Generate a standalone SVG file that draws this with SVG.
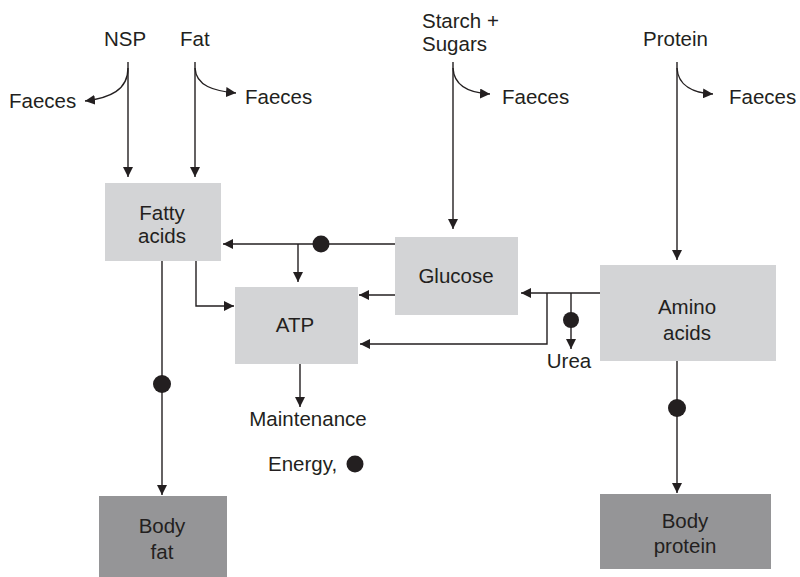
<svg xmlns="http://www.w3.org/2000/svg" width="800" height="577" viewBox="0 0 800 577">
  <style>
    .lbl { font-family: "Liberation Sans", Arial, sans-serif; font-size: 20.5px; fill: #231f20; }
    .mid { text-anchor: middle; }
    .light { fill: #d3d4d6; }
    .dark { fill: #959597; }
    .wire { fill: none; stroke: #231f20; stroke-width: 1.4; }
    .dot { fill: #231f20; }
  </style>
  <defs>
    <marker id="arrow" viewBox="0 0 10 10" refX="10" refY="5" markerWidth="10" markerHeight="10" markerUnits="userSpaceOnUse" orient="auto">
      <path d="M0,0 L10,5 L0,10 z" fill="#231f20"/>
    </marker>
  </defs>

  <rect width="800" height="577" fill="#ffffff"/>

  <!-- inputs -->
  <g id="nsp"><text class="lbl" x="104" y="46">NSP</text></g>
  <g id="fat"><text class="lbl" x="180" y="46">Fat</text></g>
  <g id="starch-sugars">
    <text class="lbl" x="422" y="28">Starch +</text>
    <text class="lbl" x="422" y="51">Sugars</text>
  </g>
  <g id="protein"><text class="lbl" x="643" y="46">Protein</text></g>

  <!-- faecal losses -->
  <g id="faeces-nsp"><text class="lbl" x="9" y="108">Faeces</text></g>
  <g id="faeces-fat"><text class="lbl" x="245" y="104">Faeces</text></g>
  <g id="faeces-starch"><text class="lbl" x="502" y="104">Faeces</text></g>
  <g id="faeces-protein"><text class="lbl" x="729" y="104">Faeces</text></g>

  <!-- metabolic pools -->
  <g id="fatty-acids">
    <rect class="light" x="105" y="183" width="116" height="78"/>
    <text class="lbl mid" x="162" y="220">Fatty</text>
    <text class="lbl mid" x="162" y="243">acids</text>
  </g>
  <g id="glucose">
    <rect class="light" x="395" y="237" width="123" height="78"/>
    <text class="lbl mid" x="456" y="283">Glucose</text>
  </g>
  <g id="atp">
    <rect class="light" x="235" y="287" width="123" height="77"/>
    <text class="lbl mid" x="295" y="332">ATP</text>
  </g>
  <g id="amino-acids">
    <rect class="light" x="600" y="265" width="176" height="96"/>
    <text class="lbl mid" x="687" y="314">Amino</text>
    <text class="lbl mid" x="687" y="340">acids</text>
  </g>

  <!-- outputs -->
  <g id="urea"><text class="lbl mid" x="569" y="368">Urea</text></g>
  <g id="maintenance"><text class="lbl mid" x="308" y="426">Maintenance</text></g>
  <g id="energy-key">
    <text class="lbl" x="268" y="471">Energy,</text>
    <circle class="dot" cx="355" cy="464" r="8.5"/>
  </g>
  <g id="body-fat">
    <rect class="dark" x="99" y="496" width="128" height="81"/>
    <text class="lbl mid" x="162" y="533">Body</text>
    <text class="lbl mid" x="162" y="559">fat</text>
  </g>
  <g id="body-protein">
    <rect class="dark" x="600" y="494" width="171" height="75"/>
    <text class="lbl mid" x="685" y="528">Body</text>
    <text class="lbl mid" x="685" y="553">protein</text>
  </g>

  <!-- connectors -->
  <g id="connectors">
    <path class="wire" d="M128,62 V177" marker-end="url(#arrow)"/>
    <path class="wire" d="M128,68 C128,90 110,98 85,101" marker-end="url(#arrow)"/>
    <path class="wire" d="M195,62 V177" marker-end="url(#arrow)"/>
    <path class="wire" d="M195,68 C196,86 214,91 236,93" marker-end="url(#arrow)"/>
    <path class="wire" d="M453,62 V229" marker-end="url(#arrow)"/>
    <path class="wire" d="M453,68 C454,86 470,93 490,94" marker-end="url(#arrow)"/>
    <path class="wire" d="M677,62 V260" marker-end="url(#arrow)"/>
    <path class="wire" d="M677,68 C678,86 694,93 713,94" marker-end="url(#arrow)"/>

    <path class="wire" d="M395,244 H223" marker-end="url(#arrow)"/>
    <circle class="dot" cx="321" cy="244" r="8.5"/>
    <path class="wire" d="M298,244 V282" marker-end="url(#arrow)"/>
    <path class="wire" d="M196,261 V306 H234" marker-end="url(#arrow)"/>
    <path class="wire" d="M395,295 H359" marker-end="url(#arrow)"/>

    <path class="wire" d="M600,293 H521" marker-end="url(#arrow)"/>
    <path class="wire" d="M547,293 V344 H360" marker-end="url(#arrow)"/>
    <path class="wire" d="M571,293 V349" marker-end="url(#arrow)"/>
    <circle class="dot" cx="571" cy="320" r="8"/>

    <path class="wire" d="M162,261 V495" marker-end="url(#arrow)"/>
    <circle class="dot" cx="162" cy="384" r="9"/>
    <path class="wire" d="M300,364 V407" marker-end="url(#arrow)"/>
    <path class="wire" d="M677,361 V493" marker-end="url(#arrow)"/>
    <circle class="dot" cx="677" cy="408" r="9"/>
  </g>
</svg>
